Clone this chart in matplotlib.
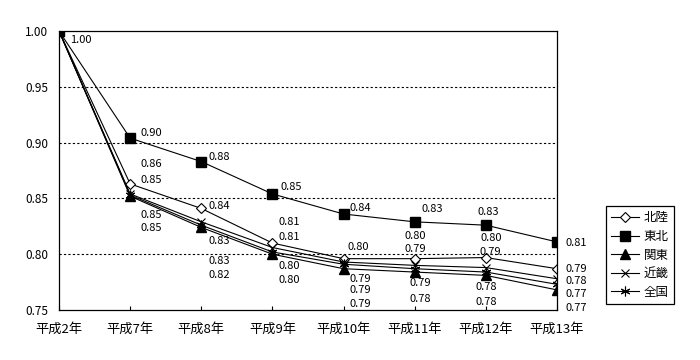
import numpy as np
import matplotlib
matplotlib.use('Agg')
import matplotlib.pyplot as plt
from matplotlib.ticker import FormatStrFormatter

plt.rcParams['font.family'] = ['Noto Sans CJK JP', 'DejaVu Sans']

years = ['平成2年', '平成7年', '平成8年', '平成9年', '平成10年', '平成11年', '平成12年', '平成13年']

hokuriku = [1.00, 0.863, 0.841, 0.810, 0.796, 0.796, 0.797, 0.787]
tohoku = [1.00, 0.904, 0.883, 0.854, 0.836, 0.829, 0.826, 0.811]
kanto = [1.00, 0.852, 0.824, 0.800, 0.787, 0.784, 0.781, 0.768]
kinki = [1.00, 0.854, 0.829, 0.806, 0.793, 0.790, 0.788, 0.778]
zenkoku = [1.00, 0.853, 0.826, 0.802, 0.791, 0.787, 0.784, 0.773]

# label offsets in pixels (dx, dy screen-down); None = no label
off_hokuriku = [None, (21, -20), (18, -2), (17, -21), (15, -12), (1, -23), (5, -20), (19, 0)]
off_tohoku = [(22, 9), (21, -5), (18, -5), (19, -7), (17, -6), (18, -13), (2, -13), (19, 1)]
off_kanto = [None, (21, 32), (18, 48), (17, 26), (17, 35), (6, 27), (0, 27), (19, 18)]
off_kinki = [None, (21, -14), (18, 19), (17, -11), (17, 17), (1, -16), (4, -16), (19, 2)]
off_zenkoku = [None, (21, 20), (18, 36), (17, 14), (17, 26), (6, 14), (0, 15), (19, 10)]

fig = plt.figure(figsize=(7, 3.6), dpi=100)
ax = fig.add_axes([59/700, 50/360, 498/700, 279/360])

x = np.arange(len(years))
series = [
    ('北陸', hokuriku, dict(marker='D', mfc='white', mec='black', ms=5.5, mew=0.8), off_hokuriku),
    ('東北', tohoku, dict(marker='s', mfc='black', mec='black', ms=6.5), off_tohoku),
    ('関東', kanto, dict(marker='^', mfc='black', mec='black', ms=7), off_kanto),
    ('近畿', kinki, dict(marker='x', mfc='black', mec='black', ms=6, mew=0.8), off_kinki),
    ('全国', zenkoku, dict(marker=(6, 2, 0), mfc='black', mec='black', ms=7, mew=0.8), off_zenkoku),
]

for name, vals, st, offs in series:
    ax.plot(x, vals, color='black', lw=0.8, label=name, **st)
    for i, v in enumerate(vals):
        if offs[i] is None:
            continue
        dx, dy = offs[i]
        ax.annotate('%.2f' % v, (x[i], v), xytext=(dx, -dy), textcoords='offset pixels',
                    ha='center', va='center', fontsize=8)

ax.set_xlim(0, len(years) - 1)
ax.set_ylim(0.75, 1.00)
ax.set_yticks([0.75, 0.80, 0.85, 0.90, 0.95, 1.00])
ax.yaxis.set_major_formatter(FormatStrFormatter('%.2f'))
for yv in [0.80, 0.85, 0.90, 0.95]:
    ax.axhline(yv, color='black', lw=0.8, ls=(0, (2, 2)), zorder=0)
ax.set_xticks(x)
ax.set_xticklabels(years)
ax.tick_params(axis='x', direction='in', length=3, pad=9, labelsize=9.5)
ax.tick_params(axis='y', length=0, pad=8, labelsize=8.5)
for sp in ax.spines.values():
    sp.set_linewidth(0.9)

leg = fig.legend(loc='center', bbox_to_anchor=(640/700, 1 - 255/360), fancybox=False,
                 edgecolor='black', framealpha=1, fontsize=9, handlelength=2.2,
                 handletextpad=0.4, borderpad=0.4, labelspacing=0.45)
leg.get_frame().set_linewidth(0.9)

fig.savefig('out.png', dpi=100)
